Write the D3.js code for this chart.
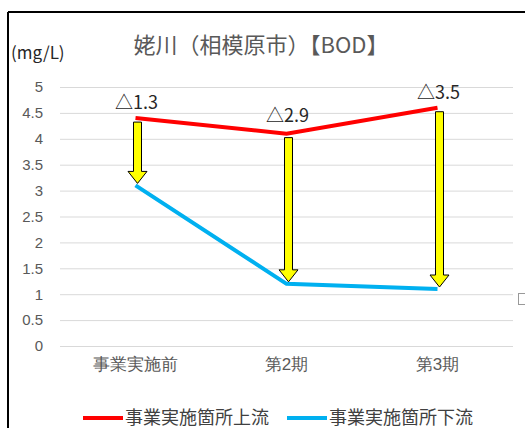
<!DOCTYPE html>
<meta charset="utf-8">
<style>
    body { margin: 0; background: white; }
    svg { display: block; font-family: "Noto Sans CJK JP", "Noto Sans", sans-serif; }
    .grid line { stroke: #d9d9d9; stroke-width: 1; }
    .yaxis text { fill: #595959; font-size: 15px; }
    .xaxis text { fill: #595959; font-size: 17px; }
</style>
<body>
<svg width="525" height="428"></svg>
<script src="https://cdn.jsdelivr.net/npm/d3@7/dist/d3.min.js"></script>
<script>
    var categories = ["事業実施前", "第2期", "第3期"];
    var upstream = [4.4, 4.1, 4.6];
    var downstream = [3.1, 1.2, 1.1];
    var diffLabels = ["△1.3", "△2.9", "△3.5"];
    var yTicks = [0, 0.5, 1, 1.5, 2, 2.5, 3, 3.5, 4, 4.5, 5];
    var seriesNames = ["事業実施箇所上流", "事業実施箇所下流"];
    var seriesColors = ["#ff0000", "#00b0f0"];

    var svg = d3.select("svg");

    var x = d3.scaleBand().domain(categories).range([60, 513]);
    var y = d3.scaleLinear().domain([0, 5]).range([346, 87]);
    var cx = function(d, i) { return x(categories[i]) + x.bandwidth() / 2; };

    // frame
    svg.append("line").attr("x1", 8).attr("x2", 525).attr("y1", 12).attr("y2", 12)
        .attr("stroke", "#000").attr("stroke-width", 2);
    svg.append("line").attr("x1", 8).attr("x2", 8).attr("y1", 12).attr("y2", 428)
        .attr("stroke", "#000").attr("stroke-width", 2);
    // little icon on the right edge
    svg.append("rect").attr("x", 518.5).attr("y", 293.5).attr("width", 8).attr("height", 11)
        .attr("fill", "#fff").attr("stroke", "#999");

    // title
    svg.append("text").attr("x", 261).attr("y", 53).attr("text-anchor", "middle")
        .attr("font-size", "22px").attr("fill", "#595959").text("姥川（相模原市）【BOD】");
    svg.append("text").attr("x", 11).attr("y", 59)
        .attr("font-size", "17px").attr("fill", "#262626").text("(mg/L)");

    // grid + y axis
    svg.append("g").attr("class", "grid")
        .attr("transform", "translate(60,0)")
        .call(d3.axisRight(y).tickValues(yTicks).tickSize(453).tickFormat(""))
        .call(function(g) { g.select(".domain").remove(); });
    svg.append("g").attr("class", "yaxis")
        .attr("transform", "translate(48,0)")
        .call(d3.axisLeft(y).tickValues(yTicks).tickSize(0).tickPadding(5).tickFormat(d3.format("")))
        .call(function(g) { g.select(".domain").remove(); g.selectAll("text").attr("font-family", null); });

    // x axis labels
    svg.append("g").attr("class", "xaxis")
        .attr("transform", "translate(0,346)")
        .call(d3.axisBottom(x).tickSize(0).tickPadding(12))
        .call(function(g) { g.select(".domain").remove(); g.selectAll("text").attr("font-family", null); });

    // lines
    var line = d3.line().x(cx).y(function(d) { return y(d); });
    [upstream, downstream].forEach(function(s, k) {
        svg.append("path").datum(s)
            .attr("fill", "none")
            .attr("stroke", seriesColors[k])
            .attr("stroke-width", 4)
            .attr("d", line);
    });

    // arrows
    var shaftW = 8, headW = 19, headL = 12;
    svg.append("g").selectAll("path")
        .data(upstream)
        .enter().append("path")
        .attr("fill", "#ffff00")
        .attr("stroke", "#000")
        .attr("stroke-width", 1)
        .attr("d", function(d, i) {
            var c = cx(d, i) + 2, top = y(d) + 4, tip = y(downstream[i]) - 2;
            var hb = tip - headL;
            return "M" + (c - shaftW / 2) + "," + top +
                "L" + (c + shaftW / 2) + "," + top +
                "L" + (c + shaftW / 2) + "," + hb +
                "L" + (c + headW / 2) + "," + hb +
                "L" + c + "," + tip +
                "L" + (c - headW / 2) + "," + hb +
                "L" + (c - shaftW / 2) + "," + hb + "Z";
        });

    // difference labels
    svg.append("g").selectAll("text")
        .data(upstream)
        .enter().append("text")
        .attr("x", function(d, i) { return cx(d, i) + 1; })
        .attr("y", function(d, i) { return y(d) - (i === 1 ? 12 : 9); })
        .attr("text-anchor", "middle")
        .attr("font-size", "18px")
        .attr("fill", "#262626")
        .text(function(d, i) { return diffLabels[i]; });

    // legend
    var legendX = [83, 287];
    var lg = svg.append("g").selectAll("g")
        .data(seriesNames)
        .enter().append("g")
        .attr("transform", function(d, i) { return "translate(" + legendX[i] + ",418)"; });
    lg.append("line").attr("x1", 0).attr("x2", 40).attr("y1", 0).attr("y2", 0)
        .attr("stroke", function(d, i) { return seriesColors[i]; })
        .attr("stroke-width", 4);
    lg.append("text").attr("x", 42).attr("y", 6)
        .attr("font-size", "18px").attr("fill", "#404040")
        .text(function(d) { return d; });
</script>
</body>
